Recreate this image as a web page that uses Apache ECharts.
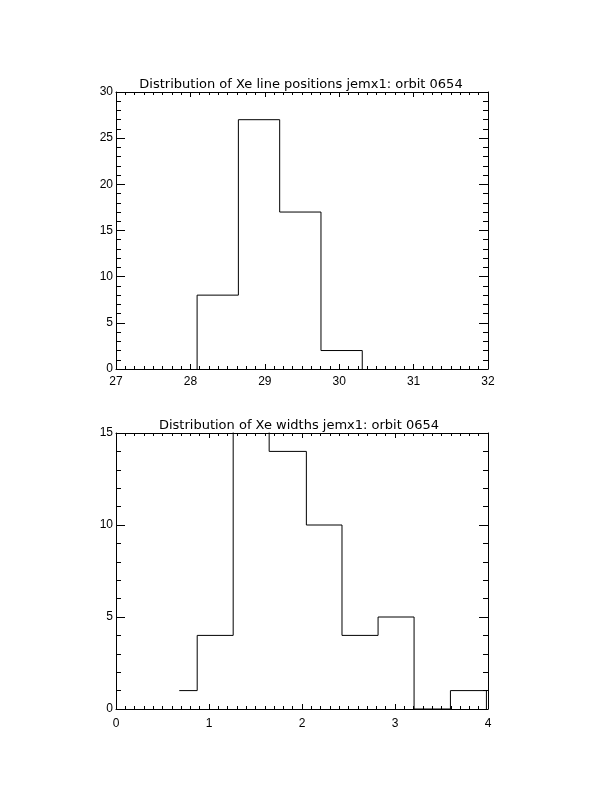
<!DOCTYPE html>
<html>
<head>
<meta charset="utf-8">
<script src="https://cdn.jsdelivr.net/npm/echarts@6/dist/echarts.min.js"></script>
<style>html,body{margin:0;padding:0;background:#fff}#c{width:612px;height:792px}</style>
</head>
<body>
<div id="c"></div>
<script>
// Top histogram: line positions
const posTitle = 'Distribution of Xe line positions jemx1: orbit 0654';
const posEdges = [28.09, 28.09, 28.645, 29.20, 29.755, 30.31];
const posCounts = [0, 8, 27, 17, 2, 0];
// Bottom histogram: widths
const widTitle = 'Distribution of Xe widths jemx1: orbit 0654';
const widEdges = [0.68, 0.873, 1.26, 1.647, 2.047, 2.43, 2.818, 3.205, 3.596, 3.983];
const widCounts = [1, 4, 17, 14, 10, 4, 5, 0, 1, 0];

const font = 'Liberation Sans';
const titleFont = 'DejaVu Sans';
const black = '#000';

function pairs(xs, ys) { return xs.map((x, i) => [x, ys[i]]); }

function xAx(grid, min, max, minorSplit, pos, labels, margin) {
  return {
    type: 'value', gridIndex: grid, min: min, max: max, interval: 1, position: pos,
    axisLine: { show: true, onZero: false, lineStyle: { color: black, width: 1 } },
    axisTick: { show: true, inside: true, length: 5, lineStyle: { color: black } },
    minorTick: { show: true, splitNumber: minorSplit, length: 3, lineStyle: { color: black } },
    splitLine: { show: false }, minorSplitLine: { show: false },
    axisLabel: { show: labels, color: black, fontFamily: font, fontSize: 12, margin: margin }
  };
}
function yAx(grid, min, max, pos, labels) {
  return {
    type: 'value', gridIndex: grid, min: min, max: max, interval: 5, position: pos,
    axisLine: { show: true, onZero: false, lineStyle: { color: black, width: 1 } },
    axisTick: { show: true, inside: true, length: 9, lineStyle: { color: black } },
    minorTick: { show: true, splitNumber: 5, length: 5, lineStyle: { color: black } },
    splitLine: { show: false }, minorSplitLine: { show: false },
    axisLabel: { show: labels, color: black, fontFamily: font, fontSize: 12, margin: 3 }
  };
}

const chart = echarts.init(document.getElementById('c'), null, { renderer: 'canvas' });
chart.setOption({
  animation: false,
  backgroundColor: '#fff',
  title: [
    { text: posTitle, left: 296, top: 73, textAlign: 'center',
      textStyle: { fontFamily: titleFont, fontSize: 13, fontWeight: 'normal', color: black } },
    { text: widTitle, left: 294, top: 414, textAlign: 'center',
      textStyle: { fontFamily: titleFont, fontSize: 13, fontWeight: 'normal', color: black } }
  ],
  grid: [
    { left: 116, top: 92, width: 372, height: 277 },
    { left: 116, top: 433, width: 372, height: 276 }
  ],
  xAxis: [
    xAx(0, 27, 32, 8, 'bottom', true, 7),
    xAx(0, 27, 32, 8, 'top', false, 7),
    xAx(1, 0, 4, 10, 'bottom', true, 9),
    xAx(1, 0, 4, 10, 'top', false, 9)
  ],
  yAxis: [
    yAx(0, 0, 30, 'left', true),
    yAx(0, 0, 30, 'right', false),
    yAx(1, 0, 15, 'left', true),
    yAx(1, 0, 15, 'right', false)
  ],
  series: [
    { type: 'line', xAxisIndex: 0, yAxisIndex: 0, step: 'end', symbol: 'none', clip: true,
      data: pairs(posEdges, posCounts), lineStyle: { color: black, width: 1 } },
    { type: 'line', xAxisIndex: 2, yAxisIndex: 2, step: 'end', symbol: 'none', clip: true,
      data: pairs(widEdges, widCounts), lineStyle: { color: black, width: 1 } }
  ]
});
</script>
</body>
</html>
